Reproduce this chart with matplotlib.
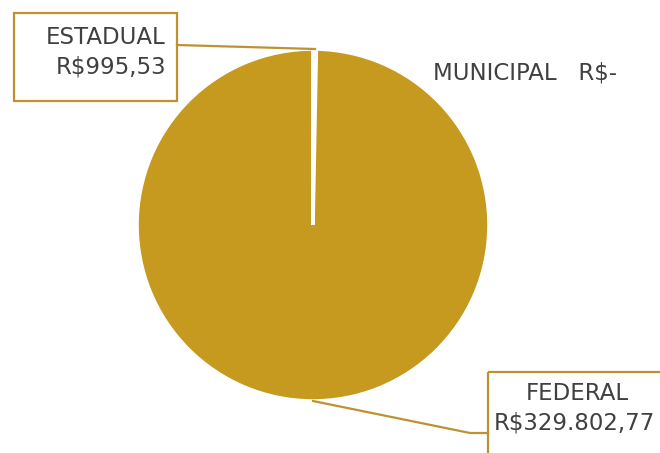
import matplotlib
matplotlib.use('Agg')
import matplotlib.pyplot as plt
from matplotlib.patches import Rectangle

categories = ['ESTADUAL', 'FEDERAL', 'MUNICIPAL']
values = [995.53, 329802.77, 0.0]
value_labels = ['R$995,53', 'R$329.802,77', 'R$-']

gold = '#C59A1F'
edge = '#BE9230'
txt = '#404040'

W, H = 660, 453
fig = plt.figure(figsize=(W / 100, H / 100), dpi=100)

# pie axes: centre (313,225) px, radius 176 px
cx, cy, r = 313, 225, 176
ax = fig.add_axes([(cx - r) / W, (H - cy - r) / H, 2 * r / W, 2 * r / H])
ax.pie(values, colors=[gold] * len(values), startangle=90, counterclock=False,
       wedgeprops=dict(edgecolor='white', linewidth=2.6))
ax.set_xlim(-1, 1)
ax.set_ylim(-1, 1)
ax.set_aspect('auto')

# overlay in pixel coordinates for labels / leader lines
ov = fig.add_axes([0, 0, 1, 1], zorder=5)
ov.set_xlim(0, W)
ov.set_ylim(H, 0)
ov.axis('off')
ov.patch.set_alpha(0)

fs = 16.5

# ESTADUAL
ov.add_patch(Rectangle((14, 13), 163, 88, fill=False, ec=edge, lw=1.6))
ov.text(166, 38, categories[0], ha='right', va='center', fontsize=fs, color=txt)
ov.text(166, 67, value_labels[0], ha='right', va='center', fontsize=fs, color=txt)
ov.plot([177, 315], [45, 49], color=edge, lw=1.6)

# MUNICIPAL
ov.text(433, 73, categories[2] + '   ' + value_labels[2], ha='left', va='center',
        fontsize=fs, color=txt)

# FEDERAL
ov.add_patch(Rectangle((488, 372), 200, 120, fill=False, ec=edge, lw=1.6, clip_on=False))
ov.text(577, 394, categories[1], ha='center', va='center', fontsize=fs, color=txt)
ov.text(494, 423, value_labels[1], ha='left', va='center', fontsize=fs, color=txt)
ov.plot([313, 470, 488], [401, 433, 433], color=edge, lw=1.6)

fig.savefig('out.png', dpi=100)
